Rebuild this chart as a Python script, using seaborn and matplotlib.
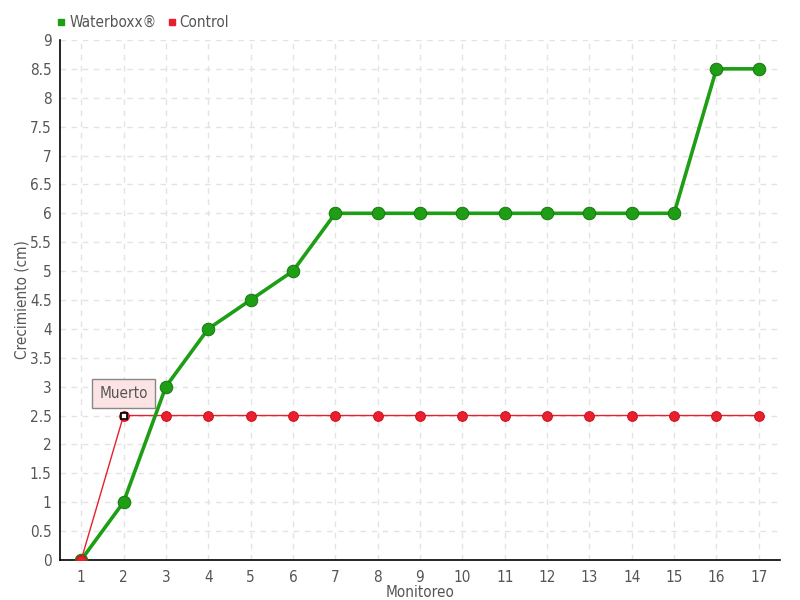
import matplotlib
matplotlib.use("Agg")
import matplotlib.pyplot as plt
import seaborn as sns
import pandas as pd
from matplotlib.lines import Line2D

monitoreo = list(range(1, 18))
waterboxx = [0, 1, 3, 4, 4.5, 5, 6, 6, 6, 6, 6, 6, 6, 6, 6, 8.5, 8.5]
control = [0, 2.5, 2.5, 2.5, 2.5, 2.5, 2.5, 2.5, 2.5, 2.5, 2.5, 2.5, 2.5, 2.5, 2.5, 2.5, 2.5]
series_names = ["Waterboxx®", "Control"]
y_ticks = [0, 0.5, 1, 1.5, 2, 2.5, 3, 3.5, 4, 4.5, 5, 5.5, 6, 6.5, 7, 7.5, 8, 8.5, 9]
annot_label = "Muerto"

sns.set_theme(style="white")
plt.rcParams['font.family'] = ['DejaVu Sans']
plt.rcParams['font.stretch'] = 'condensed'

df = pd.DataFrame({"Monitoreo": monitoreo * 2,
                   "Valor": waterboxx + control,
                   "Serie": [series_names[0]] * len(monitoreo) + [series_names[1]] * len(monitoreo)})

green = "#1e9e14"
green_edge = "#1a7a12"
red = "#e8202e"
txt = "#555555"

fig = plt.figure(figsize=(8, 6), dpi=100)
ax = fig.add_axes([0.075, 0.0667, 0.9, 0.8667])

ax.grid(True, color="#e3e3e3", linestyle=(0, (4, 4)), linewidth=1)
ax.set_axisbelow(True)

sub_g = df[df["Serie"] == series_names[0]]
sub_r = df[df["Serie"] == series_names[1]]
sns.lineplot(data=sub_r, x="Monitoreo", y="Valor", ax=ax, color=red, linewidth=1,
             marker="o", markersize=7, markerfacecolor=red, markeredgecolor="#d01020", zorder=3)
sns.lineplot(data=sub_g, x="Monitoreo", y="Valor", ax=ax, color=green, linewidth=2.6,
             marker="o", markersize=9, markerfacecolor=green, markeredgecolor=green_edge, zorder=4)
ax.plot([monitoreo[0]], [control[0]], marker="o", markersize=7, color=red,
        markeredgecolor="#d01020", zorder=5)
ax.plot([monitoreo[1]], [control[1]], marker="s", markersize=5, markerfacecolor="white",
        markeredgecolor="black", markeredgewidth=1.2, zorder=6)
ax.annotate(annot_label, xy=(monitoreo[1], control[1]), xytext=(monitoreo[1], 2.88),
            ha="center", va="center", fontsize=11, color=txt, zorder=7,
            bbox=dict(boxstyle="square,pad=0.45", facecolor="#fde4e4", edgecolor="#888888", linewidth=1))

ax.set_xlim(0.5, 17.5)
ax.set_ylim(0, 9)
ax.set_xticks(monitoreo)
ax.set_yticks(y_ticks)
ax.set_yticklabels([f"{v:g}" for v in y_ticks])
ax.tick_params(axis="both", labelsize=11, labelcolor=txt, length=4, width=1, color="black",
               direction="out", pad=2)
ax.tick_params(axis="x", length=6, pad=1)
for s in ["top", "right"]:
    ax.spines[s].set_visible(False)
for s in ["left", "bottom"]:
    ax.spines[s].set_color("black")
    ax.spines[s].set_linewidth(1.2)
ax.set_xlabel("Monitoreo", fontsize=11, color=txt, labelpad=0)
ax.set_ylabel("Crecimiento (cm)", fontsize=11, color=txt, labelpad=0)

handles = [Line2D([], [], marker="s", linestyle="none", color=green, markersize=5),
           Line2D([], [], marker="s", linestyle="none", color=red, markersize=5)]
fig.legend(handles, series_names, loc="upper left", bbox_to_anchor=(0.052, 0.998), ncol=2,
           frameon=False, fontsize=11, handletextpad=0.1, columnspacing=0.6,
           labelcolor=txt, handlelength=0.8)

fig.savefig("out.png", dpi=100)
